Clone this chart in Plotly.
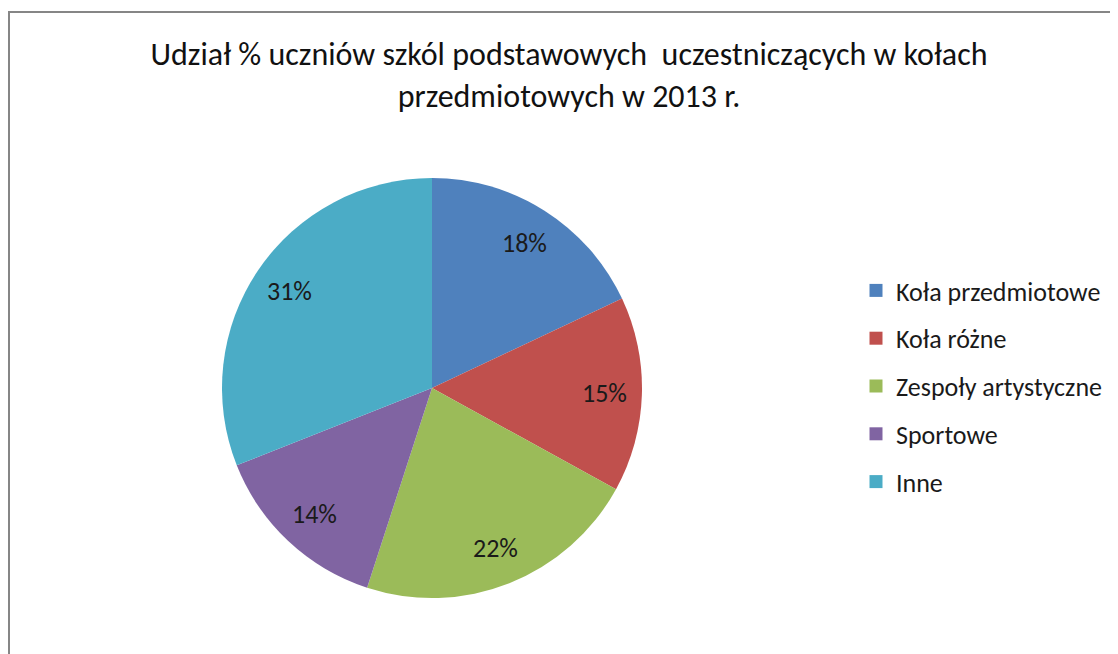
import math
import plotly.graph_objects as go

# data
categories = ["Koła przedmiotowe", "Koła różne", "Zespoły artystyczne", "Sportowe", "Inne"]
shares = [18, 15, 22, 14, 31]
colors = ["#4F81BD", "#C0504D", "#9BBB59", "#8064A2", "#4BACC6"]
title_text = "Udział % uczniów szkól podstawowych  uczestniczących w kołach<br>przedmiotowych w 2013 r."

FONT = "Calibri, Carlito, Lato, sans-serif"
W, H = 1118, 654

# pie placement (pixels, the page adds an 8px offset)
cx, cy, R = 424, 380, 210
dom_x = [(cx - R) / W, (cx + R) / W]
dom_y = [1 - (cy + R) / H, 1 - (cy - R) / H]

fig = go.Figure()

fig.add_trace(go.Pie(
    labels=categories, values=shares, sort=False, direction="clockwise", rotation=0,
    marker=dict(colors=colors, line=dict(width=0)),
    textinfo="none", domain=dict(x=dom_x, y=dom_y),
    showlegend=False, hoverinfo="label+percent",
))

# percentage labels placed like Excel does (about 0.82 of the radius)
total = sum(shares)
annotations = []
acc = 0
for v in shares:
    mid = (acc + v / 2) / total * 2 * math.pi
    acc += v
    px = cx + 0.82 * R * math.sin(mid)
    py = cy - 0.82 * R * math.cos(mid)
    annotations.append(dict(
        x=px / W, y=1 - py / H, xref="paper", yref="paper", showarrow=False,
        text=f"{round(v / total * 100)}%", xanchor="center", yanchor="middle",
        font=dict(family=FONT, size=26, color="#1a1a1a"),
    ))

# legend entries (one group each so the spacing can match the original)
for name, col in zip(categories, colors):
    fig.add_trace(go.Scatter(
        x=[None], y=[None], mode="markers", name=name, legendgroup=name,
        marker=dict(symbol="square", size=13, color=col),
    ))

fig.update_layout(
    width=W, height=H,
    paper_bgcolor="white", plot_bgcolor="white",
    margin=dict(l=0, r=0, t=0, b=0),
    title=dict(text=title_text, x=561 / W, xanchor="center", y=1 - 57 / H, yanchor="middle",
               font=dict(family=FONT, size=32, color="#111111")),
    xaxis=dict(visible=False), yaxis=dict(visible=False),
    legend=dict(x=848 / W, xanchor="left", y=1 - 259 / H, yanchor="top",
                font=dict(family=FONT, size=26, color="#1a1a1a"),
                tracegroupgap=11, itemwidth=30, bgcolor="rgba(0,0,0,0)"),
    annotations=annotations,
    shapes=[dict(type="rect", xref="paper", yref="paper",
                 x0=1 / W, x1=1.05, y0=-0.05, y1=1 - 4 / H,
                 line=dict(color="#868686", width=2), fillcolor="rgba(0,0,0,0)")],
)

fig.write_html("out.html")
